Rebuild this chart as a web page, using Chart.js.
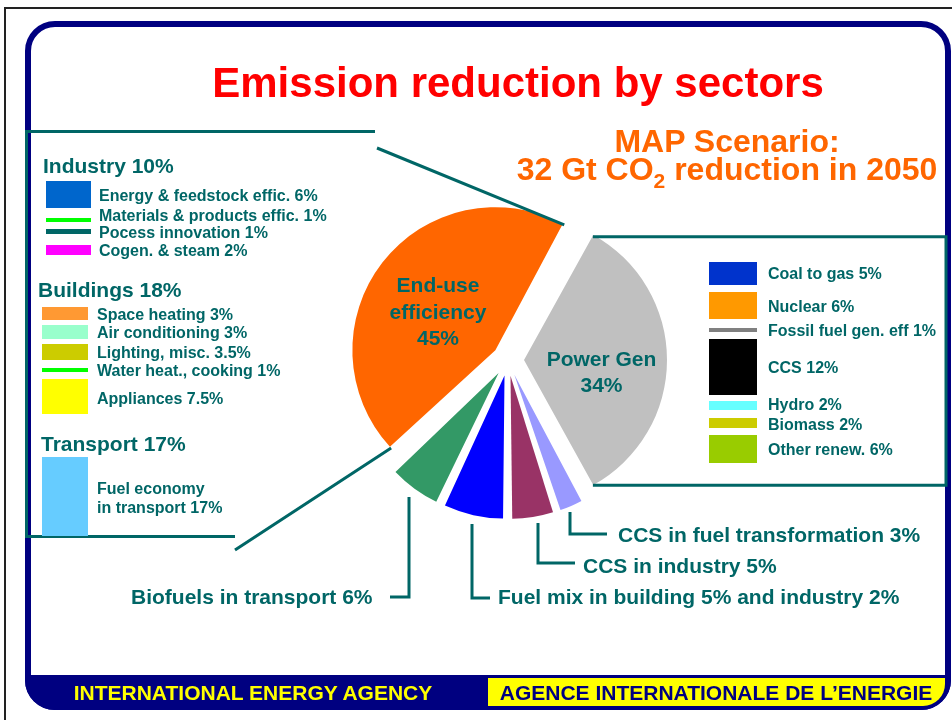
<!DOCTYPE html>
<html>
<head>
<meta charset="utf-8">
<script src="https://cdn.jsdelivr.net/npm/chart.js@4.4.1/dist/chart.umd.min.js"></script>
<style>
    body { margin: 0; background: #fff; font-family: "Liberation Sans", Arial, sans-serif; font-weight: bold; }
    #page { position: relative; width: 952px; height: 720px; overflow: hidden; }
    .box { position: absolute; }
    .t { position: absolute; line-height: 1; white-space: nowrap; transform: translateY(-50%); }
    .c { transform: translate(-50%, -50%); }
</style>
</head>
<body>
<div id="page">
    <div class="box" style="left:4px;top:7px;width:980px;height:740px;border-left:2px solid #222;border-top:2px solid #222;"></div>
    <div class="box" style="left:25px;top:21px;width:926px;height:689px;box-sizing:border-box;border:6px solid #000080;border-radius:30px;"></div>
    <div class="box" style="left:25px;top:675px;width:926px;height:35px;background:#000080;border-radius:0 0 30px 30px;"></div>
    <div class="box" style="left:488px;top:678px;width:457px;height:28px;background:#FFFF00;border-radius:0 0 22px 0;"></div>

    <div class="box" style="left:25px;top:130px;width:350px;height:3px;background:#006666;"></div>
    <div class="box" style="left:25px;top:130px;width:3px;height:408px;background:#006666;"></div>
    <div class="box" style="left:25px;top:535px;width:210px;height:3px;background:#006666;"></div>

    <canvas id="pie" width="952" height="720" style="position:absolute;left:0;top:0;"></canvas>
</div>
<script>
// pie: share of the 32 Gt CO2 reduction (%)
var sectorLabels = ['Power Gen', 'CCS in fuel transformation', 'CCS in industry', 'Fuel mix in building and industry', 'Biofuels in transport', 'End-use efficiency'];
var sectorShares = [34, 3, 5, 7, 6, 45];
var sectorColors = ['#C0C0C0', '#9999FF', '#993366', '#0000FF', '#339966', '#FF6600'];

// end-use breakdown
var industryLabels = ['Energy & feedstock effic.', 'Materials & products effic.', 'Pocess innovation', 'Cogen. & steam'];
var industryShares = [6, 1, 1, 2];
var buildingLabels = ['Space heating', 'Air conditioning', 'Lighting, misc.', 'Water heat., cooking', 'Appliances'];
var buildingShares = [3, 3, 3.5, 1, 7.5];
var transportShares = [17];

// power generation breakdown
var powerLabels = ['Coal to gas', 'Nuclear', 'Fossil fuel gen. eff', 'CCS', 'Hydro', 'Biomass', 'Other renew.'];
var powerShares = [5, 6, 1, 12, 2, 2, 6];

var TEAL = '#006666';
var PIE_R = 143;
var EXPLODE = 64;      // arc offset (chart.js draws offset / 4)
var PX_PER_PCT = 4.6;  // legend swatch height per percent

var page = document.getElementById('page');

function sum(arr) {
    return arr.reduce(function (a, b) { return a + b; }, 0);
}

function addText(str, x, cy, size, color, centered) {
    var d = document.createElement('div');
    d.className = centered ? 't c' : 't';
    d.textContent = str;
    d.style.left = x + 'px';
    d.style.top = cy + 'px';
    d.style.fontSize = size + 'px';
    d.style.color = color;
    page.appendChild(d);
    return d;
}

function addSwatch(x, cy, w, share, color) {
    var h = share * PX_PER_PCT;
    var d = document.createElement('div');
    d.className = 'box';
    d.style.left = x + 'px';
    d.style.top = (cy - h / 2) + 'px';
    d.style.width = w + 'px';
    d.style.height = h + 'px';
    d.style.background = color;
    page.appendChild(d);
}

// titles
addText('Emission reduction by sectors', 518, 83, 42, '#FF0000', true);
addText('MAP Scenario:', 727, 140.5, 32, '#FF6600', true);
var sub = addText('', 727, 171.5, 32, '#FF6600', true);
sub.innerHTML = '32 Gt CO<span style="font-size:21px;vertical-align:-8px">2</span> reduction in 2050';

// left legend
var industryColors = ['#0066CC', '#00FF00', '#006666', '#FF00FF'];
var industryTextY = [195.5, 216, 232.5, 251];
var industrySwY = [194.5, 220, 231.5, 250];
addText('Industry ' + sum(industryShares) + '%', 43, 165, 21, TEAL);
industryLabels.forEach(function (lab, i) {
    addSwatch(46, industrySwY[i], 45, industryShares[i], industryColors[i]);
    addText(lab + ' ' + industryShares[i] + '%', 99, industryTextY[i], 16, TEAL);
});

var buildingColors = ['#FF9933', '#99FFCC', '#CCCC00', '#00FF00', '#FFFF00'];
var buildingTextY = [314.5, 333, 353, 371, 399];
var buildingSwY = [313.5, 332, 352, 370, 396.5];
addText('Buildings ' + sum(buildingShares) + '%', 38, 289, 21, TEAL);
buildingLabels.forEach(function (lab, i) {
    addSwatch(42, buildingSwY[i], 46, buildingShares[i], buildingColors[i]);
    addText(lab + ' ' + buildingShares[i] + '%', 97, buildingTextY[i], 16, TEAL);
});

addText('Transport ' + sum(transportShares) + '%', 41, 442.5, 21, TEAL);
addSwatch(42, 496.5, 46, transportShares[0], '#66CCFF');
addText('Fuel economy', 97, 489, 16, TEAL);
addText('in transport ' + transportShares[0] + '%', 97, 508, 16, TEAL);

// right legend
var powerColors = ['#0033CC', '#FF9900', '#808080', '#000000', '#66FFFF', '#CCCC00', '#99CC00'];
var powerTextY = [274, 307, 331, 368, 405, 425, 450];
var powerSwY = [273.5, 305.5, 330, 367, 405.5, 423, 449];
powerLabels.forEach(function (lab, i) {
    addSwatch(709, powerSwY[i], 48, powerShares[i], powerColors[i]);
    addText(lab + ' ' + powerShares[i] + '%', 768, powerTextY[i], 16, TEAL);
});

// labels inside the pie
addText('End-use', 438, 284, 21, TEAL, true);
addText('efficiency', 438, 310.5, 21, TEAL, true);
addText(sectorShares[5] + '%', 438, 336.5, 21, TEAL, true);
addText('Power Gen', 601.5, 358, 21, TEAL, true);
addText(sectorShares[0] + '%', 601.5, 384, 21, TEAL, true);

// labels under the pie
addText('CCS in fuel transformation ' + sectorShares[1] + '%', 618, 534, 21, TEAL);
addText('CCS in industry ' + sectorShares[2] + '%', 583, 565, 21, TEAL);
addText('Fuel mix in building 5% and industry 2%', 498, 595.5, 21, TEAL);
addText('Biofuels in transport ' + sectorShares[4] + '%', 131, 596, 21, TEAL);

// footer
addText('INTERNATIONAL ENERGY AGENCY', 253, 692, 21, '#FFFF00', true);
addText('AGENCE INTERNATIONALE DE L\u2019ENERGIE', 716, 692, 21, '#000080', true);

// leader lines for the small slices: x, top, bend y, end x
var leaders = [
    [570, 512, 534, 607],
    [538, 523, 563, 575],
    [472, 524, 598, 490],
    [409, 497, 597, 390]
];

// keep every exploded slice at the same drawn radius
var trimRadius = {
    id: 'trimRadius',
    afterDatasetUpdate: function (chart) {
        chart.getDatasetMeta(0).data.forEach(function (arc) {
            var grow = EXPLODE / 4 * (1 - Math.sin(Math.min(Math.PI, arc.circumference)));
            arc.outerRadius = PIE_R - grow;
        });
    }
};

function edgePoint(arc, angle) {
    var mid = (arc.startAngle + arc.endAngle) / 2;
    var off = EXPLODE / 4;
    return {
        x: arc.x + Math.cos(mid) * off + Math.cos(angle) * PIE_R,
        y: arc.y + Math.sin(mid) * off + Math.sin(angle) * PIE_R
    };
}

var connectors = {
    id: 'connectors',
    afterDatasetsDraw: function (chart) {
        var ctx = chart.ctx;
        var arcs = chart.getDatasetMeta(0).data;
        var gray = arcs[0];
        var orange = arcs[5];
        ctx.save();
        ctx.strokeStyle = TEAL;
        ctx.lineWidth = 3;

        // end-use slice -> left box
        var up = edgePoint(orange, orange.endAngle);
        var low = edgePoint(orange, orange.startAngle);
        ctx.beginPath();
        ctx.moveTo(up.x, up.y);
        ctx.lineTo(377, 148);
        ctx.moveTo(low.x, low.y);
        ctx.lineTo(235, 550);
        ctx.stroke();

        // power gen slice -> right box
        var top = edgePoint(gray, gray.startAngle);
        var bot = edgePoint(gray, gray.endAngle);
        ctx.beginPath();
        ctx.moveTo(top.x, top.y + 2);
        ctx.lineTo(946, top.y + 2);
        ctx.lineTo(946, bot.y);
        ctx.lineTo(bot.x, bot.y);
        ctx.stroke();

        ctx.beginPath();
        leaders.forEach(function (l) {
            ctx.moveTo(l[0], l[1]);
            ctx.lineTo(l[0], l[2]);
            ctx.lineTo(l[3], l[2]);
        });
        ctx.stroke();
        ctx.restore();
    }
};

new Chart(document.getElementById('pie'), {
    type: 'pie',
    data: {
        labels: sectorLabels,
        datasets: [{
            data: sectorShares,
            backgroundColor: sectorColors,
            borderWidth: 0,
            offset: EXPLODE
        }]
    },
    options: {
        responsive: false,
        animation: false,
        events: [],
        radius: PIE_R,
        // centre the power gen slice on the horizontal axis
        rotation: 90 - sectorShares[0] * 1.8,
        layout: { padding: { left: 64 } },
        plugins: {
            legend: { display: false },
            tooltip: { enabled: false }
        }
    },
    plugins: [trimRadius, connectors]
});
</script>
</body>
</html>
